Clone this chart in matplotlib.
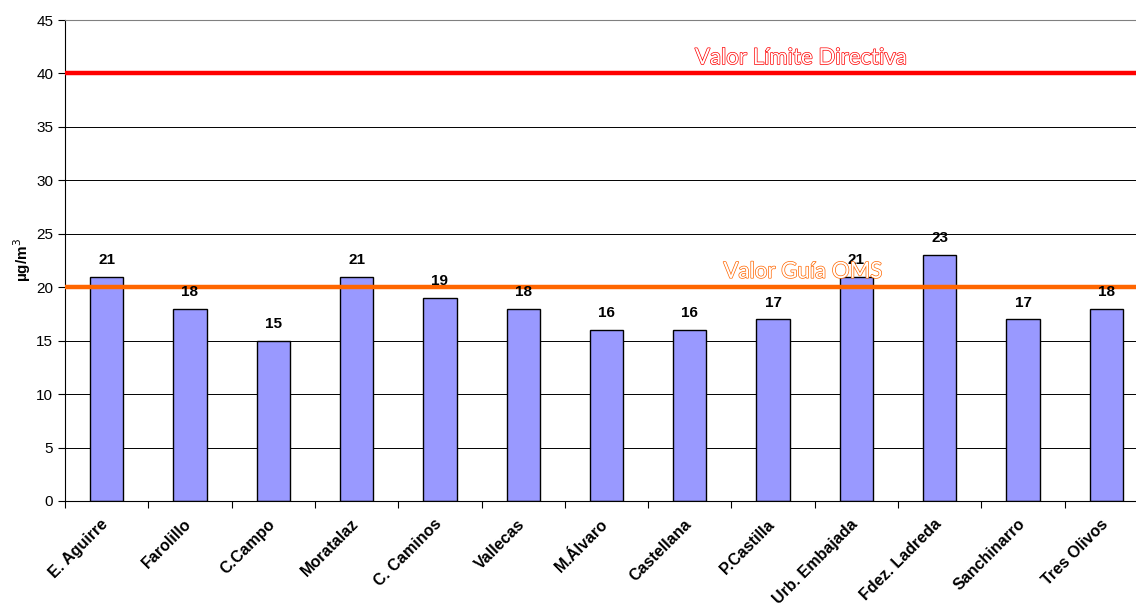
import matplotlib.pyplot as plt
import matplotlib.patheffects as pe
import matplotlib.transforms as mtransforms
import numpy as np

plt.rcParams['font.family'] = ['Liberation Sans', 'DejaVu Sans']

# Estaciones y valores medios anuales
estaciones = ['E. Aguirre', 'Farolillo', 'C.Campo', 'Moratalaz', 'C. Caminos',
              'Vallecas', 'M.Álvaro', 'Castellana', 'P.Castilla', 'Urb. Embajada',
              'Fdez. Ladreda', 'Sanchinarro', 'Tres Olivos']
valores = [21, 18, 15, 21, 19, 18, 16, 16, 17, 21, 23, 17, 18]
limite_directiva = 40
guia_oms = 20

fig = plt.figure(figsize=(11.36, 6.06), dpi=100)
# axes goes a bit past the right edge, as in the original
ax = fig.add_axes([65 / 1136, 105 / 606, 1083 / 1136, 481 / 606])

x = np.arange(len(estaciones))
ax.bar(x, valores, width=0.4, color='#9999ff', edgecolor='black', linewidth=1, zorder=2)

for xi, v in zip(x, valores):
    ax.annotate(str(v), (xi, v), xytext=(0, 7), textcoords='offset points',
                ha='center', va='bottom', fontsize=11, fontweight='bold', zorder=4)

ax.axhline(limite_directiva, color='#ff0000', linewidth=3.2, zorder=3)
ax.axhline(guia_oms, color='#ff6600', linewidth=3.2, zorder=3)

t1 = ax.text(8.34, limite_directiva + 0.5, 'Valor Límite Directiva', color='white',
             fontsize=16, family=['Lato', 'DejaVu Sans'], ha='center', va='bottom', zorder=5)
t1.set_path_effects([pe.Stroke(linewidth=1.0, foreground='#ff0000'), pe.Normal()])
t2 = ax.text(8.36, guia_oms + 0.5, 'Valor Guía OMS', color='white',
             fontsize=16, family=['Lato', 'DejaVu Sans'], ha='center', va='bottom', zorder=5)
t2.set_path_effects([pe.Stroke(linewidth=1.0, foreground='#ff6600'), pe.Normal()])

ax.set_xlim(-0.5, len(estaciones) - 0.5)
ax.set_ylim(0, 45)
ax.set_yticks(range(0, 46, 5))
ax.yaxis.grid(True, color='black', linewidth=0.7, zorder=0)
ax.set_axisbelow(True)

ax.set_xticks(x)
ax.set_xticklabels(estaciones, rotation=45, ha='right', rotation_mode='anchor',
                   fontsize=11.5, fontweight='bold')
ax.tick_params(axis='x', length=0, pad=11)
shift = mtransforms.ScaledTranslation(-6 / 100, 0, fig.dpi_scale_trans)
for lbl in ax.get_xticklabels():
    lbl.set_transform(lbl.get_transform() + shift)
ax.set_xticks(np.arange(-0.5, len(estaciones), 1), minor=True)
ax.tick_params(axis='x', which='minor', length=5, width=0.8)
ax.tick_params(axis='y', labelsize=11, length=5, width=0.8)

ax.spines['top'].set_color('#808080')
ax.spines['right'].set_visible(False)
ax.set_ylabel('µg/m$^3$', fontsize=11, fontweight='bold', labelpad=2)

fig.savefig('out.png', dpi=100)
